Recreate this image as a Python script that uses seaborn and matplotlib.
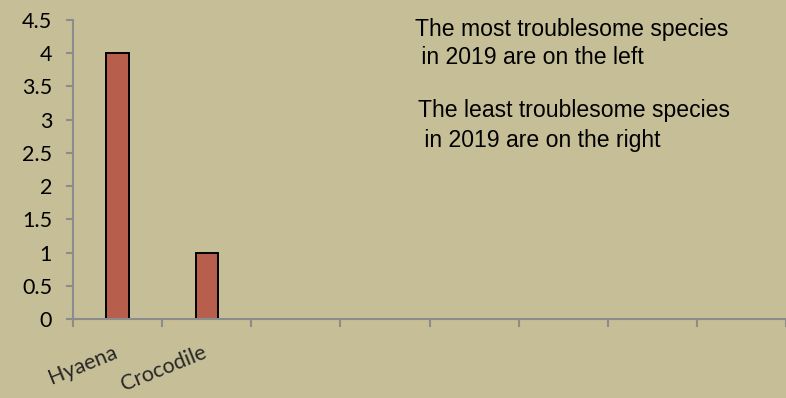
import matplotlib
matplotlib.use("Agg")
import matplotlib.pyplot as plt
import matplotlib.transforms as mtransforms
import seaborn as sns
import numpy as np
import pandas as pd

species = ["Hyaena", "Crocodile"]
counts = [4, 1]
n_slots = 8
yticks = [0, 0.5, 1, 1.5, 2, 2.5, 3, 3.5, 4, 4.5]
ytick_labels = ["0", "0.5", "1", "1.5", "2", "2.5", "3", "3.5", "4", "4.5"]
note_lines = ["The most troublesome species", " in 2019 are on the left",
              "The least troublesome species", " in 2019 are on the right"]

BG = "#C6BE97"
BAR = "#B85E4C"
AX = "#8C8C8C"

sns.set_style("white")
plt.rcParams["font.family"] = ["Lato", "DejaVu Sans"]

fig = plt.figure(figsize=(7.86, 3.98), dpi=100, facecolor=BG)
W, H = 786, 398
x0, y_top, y_bot = 73, 20, 319
ax = fig.add_axes([x0 / W, (H - y_bot) / H, (W - x0) / W, (y_bot - y_top) / H])
ax.set_facecolor(BG)

df = pd.DataFrame({"species": species, "count": counts})
sns.barplot(data=df, x="species", y="count", color=BAR, width=0.25,
            edgecolor="black", linewidth=1.4, saturation=1, ax=ax)

slot_px = 90
ax.set_xlim(-0.5, -0.5 + (W - x0) / slot_px)
ax.set_ylim(0, 4.5)

for s in ["top", "right"]:
    ax.spines[s].set_visible(False)
for s in ["left", "bottom"]:
    ax.spines[s].set_color(AX)
    ax.spines[s].set_linewidth(1.5)

ax.set_yticks(yticks)
ax.set_yticklabels(ytick_labels)
ax.tick_params(axis="y", length=5, width=1.5, color=AX, pad=10,
               labelsize=15.5, labelcolor="black", left=True)

# slot boundary ticks (major, unlabeled) and centered labels (minor)
ax.set_xticks(np.arange(n_slots + 1) - 0.5)
ax.set_xticklabels([])
ax.set_xticks(np.arange(len(species)), minor=True)
ax.set_xticklabels(species, minor=True, rotation=22, ha="right",
                   rotation_mode="anchor", fontsize=15.5)
ax.tick_params(axis="x", which="major", length=6, width=1.5, color=AX, bottom=True)
ax.tick_params(axis="x", which="minor", length=0, pad=17)
shift = mtransforms.ScaledTranslation(-5 / 100, 0, fig.dpi_scale_trans)
for lab in ax.get_xticklabels(minor=True):
    lab.set_transform(lab.get_transform() + shift)
ax.set_xlabel("")
ax.set_ylabel("")

# notes
txt_kw = dict(fontsize=16.6, family=["Liberation Sans", "DejaVu Sans"],
              color="black", va="baseline", ha="left")
positions = [(415, 36), (415, 64), (418, 117), (418, 147)]
for (px, py), line in zip(positions, note_lines):
    fig.text(px / W, (H - py) / H, line, **txt_kw)

fig.savefig("out.png", dpi=100, facecolor=BG)
